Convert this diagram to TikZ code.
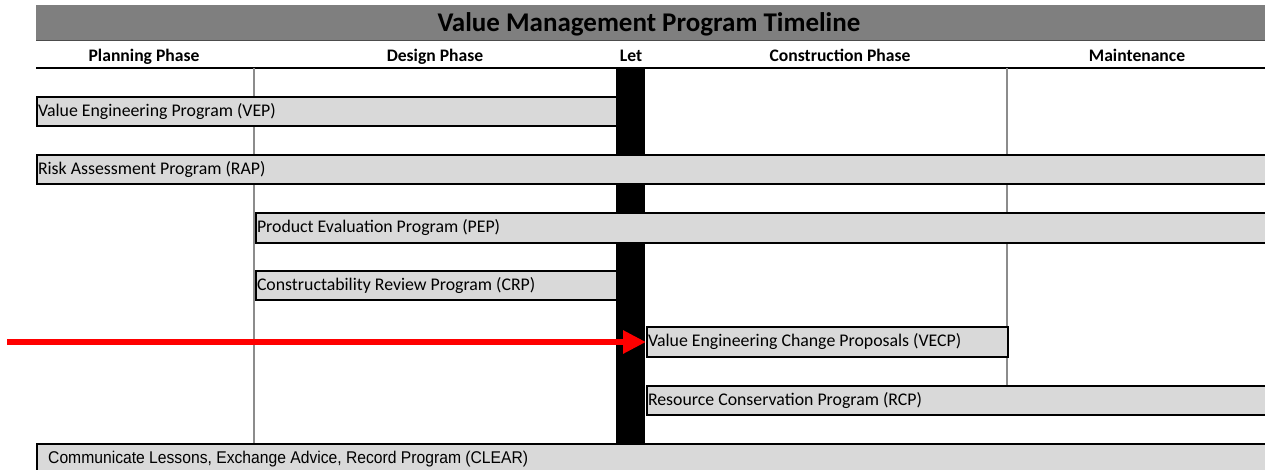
\documentclass[tikz,border=0pt]{standalone}
\usepackage{fontspec}
\setmainfont{Carlito}
\newfontfamily\arialfont[FakeStretch=0.922]{Liberation Sans}
\usetikzlibrary{arrows.meta}
\definecolor{titlegray}{HTML}{7F7F7F}
\definecolor{barfill}{HTML}{D9D9D9}
\definecolor{gridgray}{HTML}{8C8C8C}
\definecolor{arrowred}{HTML}{FF0000}
\tikzset{
  bar/.style={draw=black, line width=2pt, fill=barfill, anchor=north west,
    inner sep=0pt},
  bartext/.style={anchor=west, inner xsep=1.8pt, inner ysep=0pt, font=\fontsize{17.8}{20}\selectfont},
  hdr/.style={font=\bfseries\fontsize{17.6}{20}\selectfont, inner sep=0pt, anchor=base},
  grid/.style={draw=gridgray, line width=1.2pt},
  redarrow/.style={draw=arrowred, line width=6pt, -{Triangle[length=23pt,width=22pt]}}
}
\begin{document}
\begin{tikzpicture}[x=1pt,y=-1pt]
\useasboundingbox (0,0) rectangle (1265,469);
\fill[white] (0,0) rectangle (1265,469);
% title
\fill[titlegray] (36,5) rectangle (1268,40);
\draw[black!70, line width=1pt] (36,40.5) -- (1268,40.5);
\node[font=\bfseries\fontsize{27}{30}\selectfont, inner sep=0pt, anchor=base] (title) at (649,31) {Value Management Program Timeline};
% headers
\node[hdr] (hplan) at (144,61) {Planning Phase};
\node[hdr] (hdes) at (435,61) {Design Phase};
\node[hdr] (hlet) at (631,61) {Let};
\node[hdr] (hcon) at (840,61) {Construction Phase};
\node[hdr] (hmaint) at (1137,61) {Maintenance};
\draw[black, line width=1.6pt] (36,68) -- (1268,68);
% grid lines
\draw[grid] (254,68) -- (254,443);
\draw[grid] (1007,68) -- (1007,385);
% let column
\fill[black] (616,68) rectangle (645,443);
% bars
\node[bar, minimum width=580pt, minimum height=29pt] (vep) at (36,96) {};
\node[bartext] (veptext) at (vep.west) {Value Engineering Program (VEP)};
\node[bar, minimum width=1232pt, minimum height=29pt] (rap) at (36,154) {};
\node[bartext] (raptext) at (rap.west) {Risk Assessment Program (RAP)};
\node[bar, minimum width=1014pt, minimum height=30pt] (pep) at (255,212) {};
\node[bartext] (peptext) at (pep.west) {Product Evaluation Program (PEP)};
\node[bar, minimum width=361pt, minimum height=29pt] (crp) at (255,270) {};
\node[bartext] (crptext) at (crp.west) {Constructability Review Program (CRP)};
\node[bar, minimum width=361pt, minimum height=30pt] (vecp) at (646,326) {};
\node[bartext] (vecptext) at (vecp.west) {Value Engineering Change Proposals (VECP)};
\node[bar, minimum width=622pt, minimum height=29pt] (rcp) at (646,385) {};
\node[bartext] (rcptext) at (rcp.west) {Resource Conservation Program (RCP)};
\node[bar, minimum width=1232pt, minimum height=32pt] (clear) at (36,443) {};
\node[bartext, inner xsep=12pt, font=\arialfont\fontsize{17}{19}\selectfont] (cleartext) at ([yshift=1pt]clear.west) {Communicate Lessons, Exchange Advice, Record Program (CLEAR)};
% arrow
\coordinate (arrstart) at (7,342);
\draw[redarrow] (arrstart) -- (arrstart -| vecp.west);
\end{tikzpicture}
\end{document}
